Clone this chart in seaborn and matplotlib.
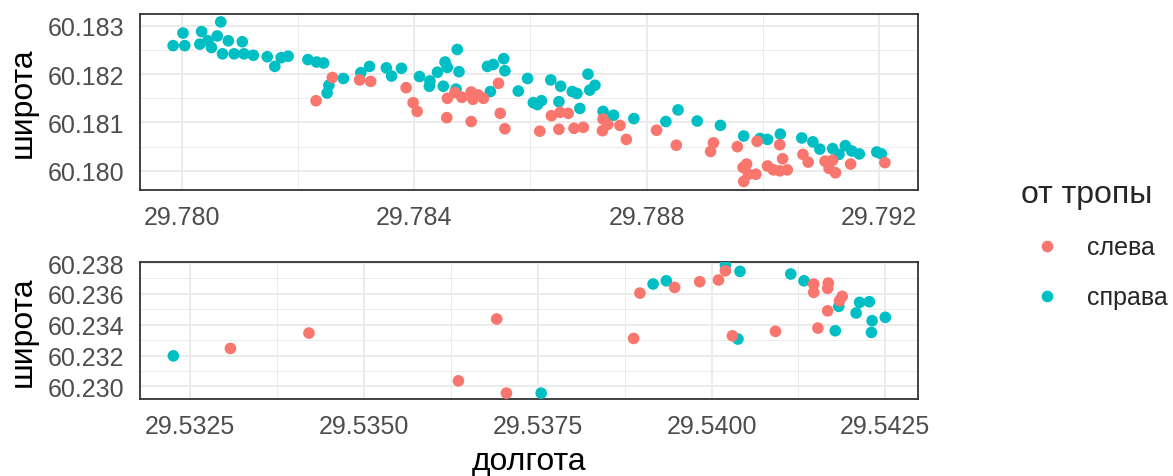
import numpy as np
import pandas as pd
import matplotlib
matplotlib.use("Agg")
import matplotlib.pyplot as plt
import seaborn as sns

# ---------------- data ----------------
side_levels = ["слева", "справа"]
palette = {"слева": "#F8766D", "справа": "#00BFC4"}
legend_title = "от тропы"
x_title = "долгота"
y_title = "широта"

# upper site, right of trail
top_right_lon = [
    29.77985, 29.78002, 29.78005, 29.78034, 29.78031, 29.78045, 29.78051, 29.78061, 29.78067, 29.78070,
    29.78080, 29.78090, 29.78104, 29.78107, 29.78123, 29.78147, 29.78160, 29.78171, 29.78183, 29.78217,
    29.78232, 29.78244, 29.78253, 29.78250, 29.78278, 29.78308, 29.78323, 29.78352, 29.78361, 29.78378,
    29.78409, 29.78427, 29.78426, 29.78440, 29.78453, 29.78457, 29.78450, 29.78474, 29.78477, 29.78472,
    29.78526, 29.78536, 29.78554, 29.78556, 29.78531, 29.78579, 29.78595, 29.78605, 29.78619, 29.78612,
    29.78635, 29.78652, 29.78649, 29.78672, 29.78680, 29.78699, 29.78711, 29.78702, 29.78685, 29.78725,
    29.78743, 29.78778, 29.78833, 29.78854, 29.78887, 29.78927, 29.78967, 29.78995, 29.79008, 29.79030,
    29.79067, 29.79086, 29.79098, 29.79120, 29.79131, 29.79142, 29.79153, 29.79166, 29.79196, 29.79204]
top_right_lat = [
    60.18259, 60.18285, 60.18259, 60.18288, 60.18262, 60.18269, 60.18255, 60.18279, 60.18308, 60.18242,
    60.18269, 60.18242, 60.18267, 60.18242, 60.18239, 60.18236, 60.18216, 60.18234, 60.18237, 60.18230,
    60.18225, 60.18223, 60.18177, 60.18161, 60.18191, 60.18203, 60.18216, 60.18213, 60.18196, 60.18212,
    60.18195, 60.18186, 60.18175, 60.18204, 60.18225, 60.18214, 60.18175, 60.18251, 60.18205, 60.18169,
    60.18216, 60.18220, 60.18232, 60.18207, 60.18164, 60.18165, 60.18191, 60.18141, 60.18145, 60.18137,
    60.18188, 60.18175, 60.18143, 60.18164, 60.18160, 60.18200, 60.18177, 60.18167, 60.18129, 60.18123,
    60.18115, 60.18108, 60.18102, 60.18126, 60.18103, 60.18094, 60.18072, 60.18067, 60.18065, 60.18076,
    60.18068, 60.18060, 60.18045, 60.18046, 60.18034, 60.18052, 60.18041, 60.18035, 60.18039, 60.18035]

# upper site, left of trail
top_left_lon = [
    29.78231, 29.78259, 29.78306, 29.78325, 29.78386, 29.78398, 29.78405, 29.78457, 29.78456, 29.78470,
    29.78482, 29.78498, 29.78501, 29.78510, 29.78519, 29.78498, 29.78545, 29.78548, 29.78556, 29.78616,
    29.78636, 29.78651, 29.78665, 29.78649, 29.78675, 29.78691, 29.78725, 29.78733, 29.78724, 29.78754,
    29.78765, 29.78817, 29.78851, 29.78915, 29.78910, 29.78956, 29.78972, 29.78966, 29.78975, 29.78967,
    29.78988, 29.78990, 29.79008, 29.79018, 29.79029, 29.79029, 29.79034, 29.79042, 29.79069, 29.79078,
    29.79107, 29.79120, 29.79114, 29.79125, 29.79151, 29.79210]
top_left_lat = [
    60.18145, 60.18193, 60.18188, 60.18185, 60.18172, 60.18141, 60.18123, 60.18150, 60.18110, 60.18162,
    60.18152, 60.18163, 60.18148, 60.18157, 60.18150, 60.18102, 60.18181, 60.18119, 60.18087, 60.18082,
    60.18114, 60.18121, 60.18119, 60.18086, 60.18088, 60.18090, 60.18107, 60.18096, 60.18083, 60.18094,
    60.18065, 60.18084, 60.18053, 60.18058, 60.18040, 60.18050, 60.18014, 60.18007, 60.17993, 60.17978,
    60.17993, 60.18061, 60.18010, 60.18002, 60.18054, 60.18000, 60.18025, 60.18002, 60.18034, 60.18018,
    60.18020, 60.18022, 60.18005, 60.17996, 60.18014, 60.18017]

# lower site, right of trail
bot_right_lon = [
    29.53226, 29.53755, 29.53916, 29.53935, 29.54020, 29.54041, 29.54038, 29.54114, 29.54133, 29.54183,
    29.54213, 29.54227, 29.54208, 29.54231, 29.54250, 29.54230, 29.54178]
bot_right_lat = [
    60.23198, 60.22956, 60.23664, 60.23685, 60.23787, 60.23746, 60.23307, 60.23729, 60.23685, 60.23519,
    60.23545, 60.23549, 60.23476, 60.23426, 60.23448, 60.23350, 60.23361]

# lower site, left of trail
bot_left_lon = [
    29.53308, 29.53421, 29.53636, 29.53691, 29.53705, 29.53888, 29.53897, 29.53947, 29.53983, 29.54010,
    29.54020, 29.54030, 29.54092, 29.54147, 29.54147, 29.54168, 29.54167, 29.54188, 29.54184, 29.54167,
    29.54153]
bot_left_lat = [
    60.23246, 60.23346, 60.23036, 60.23437, 60.22956, 60.23311, 60.23605, 60.23642, 60.23679, 60.23690,
    60.23750, 60.23328, 60.23357, 60.23664, 60.23610, 60.23670, 60.23636, 60.23584, 60.23555, 60.23490,
    60.23378]

top_xticks = [29.780, 29.784, 29.788, 29.792]
top_xticklabels = ["29.780", "29.784", "29.788", "29.792"]
top_xminor = [29.782, 29.786, 29.790]
top_yticks = [60.180, 60.181, 60.182, 60.183]
top_yticklabels = ["60.180", "60.181", "60.182", "60.183"]
top_yminor = [60.1805, 60.1815, 60.1825]
top_xlim = (29.77928, 29.79267)
top_ylim = (60.17961, 60.18325)

bot_xticks = [29.5325, 29.5350, 29.5375, 29.5400, 29.5425]
bot_xticklabels = ["29.5325", "29.5350", "29.5375", "29.5400", "29.5425"]
bot_xminor = [29.53375, 29.53625, 29.53875, 29.54125]
bot_yticks = [60.230, 60.232, 60.234, 60.236, 60.238]
bot_yticklabels = ["60.230", "60.232", "60.234", "60.236", "60.238"]
bot_yminor = [60.231, 60.233, 60.235, 60.237]
bot_xlim = (29.53178, 29.54297)
bot_ylim = (60.22918, 60.23805)


def make_df(r_lon, r_lat, l_lon, l_lat):
    right = pd.DataFrame({"lon": r_lon, "lat": r_lat, "side": "справа"})
    left = pd.DataFrame({"lon": l_lon, "lat": l_lat, "side": "слева"})
    return pd.concat([right, left], ignore_index=True)


df_top = make_df(top_right_lon, top_right_lat, top_left_lon, top_left_lat)
df_bot = make_df(bot_right_lon, bot_right_lat, bot_left_lon, bot_left_lat)

# ---------------- style ----------------
sns.set_theme(style="white")
plt.rcParams["font.family"] = ["Liberation Sans", "DejaVu Sans"]

W, H = 1173, 477
fig = plt.figure(figsize=(W / 100, H / 100), dpi=100)

def rect(l, t, r, b):
    return [l / W, 1 - b / H, (r - l) / W, (b - t) / H]

ax_top = fig.add_axes(rect(140, 14.7, 918, 190.7))
ax_bot = fig.add_axes(rect(140, 263.3, 918, 400))

border_col = "#333333"
grid_col = "#EBEBEB"
tick_col = "#4D4D4D"

panels = [
    (ax_top, df_top, top_xticks, top_xticklabels, top_xminor, top_yticks, top_yticklabels, top_yminor, top_xlim, top_ylim, True),
    (ax_bot, df_bot, bot_xticks, bot_xticklabels, bot_xminor, bot_yticks, bot_yticklabels, bot_yminor, bot_xlim, bot_ylim, False),
]

handles, labels = None, None
for ax, df, xt, xtl, xmn, yt, ytl, ymn, xl, yl, want_leg in panels:
    sns.scatterplot(data=df, x="lon", y="lat", hue="side", hue_order=side_levels,
                    palette=palette, s=70, linewidth=0, alpha=1, ax=ax,
                    legend=want_leg, zorder=3)
    if want_leg:
        handles, labels = ax.get_legend_handles_labels()
        ax.get_legend().remove()
    ax.set_xticks(xt)
    ax.set_xticklabels(xtl)
    ax.set_yticks(yt)
    ax.set_yticklabels(ytl)
    ax.set_xticks(xmn, minor=True)
    ax.set_yticks(ymn, minor=True)
    ax.set_xlim(*xl)
    ax.set_ylim(*yl)
    ax.grid(True, which="major", color=grid_col, linewidth=1.4, zorder=0)
    ax.grid(True, which="minor", color=grid_col, linewidth=0.7, zorder=0)
    ax.set_axisbelow(True)
    ax.tick_params(axis="both", which="major", length=4.8, width=1.2, color=border_col,
                   labelsize=18, labelcolor=tick_col)
    ax.tick_params(axis="x", which="major", pad=6)
    ax.tick_params(axis="y", which="major", pad=6.5)
    ax.tick_params(axis="both", which="minor", length=0)
    for sp in ax.spines.values():
        sp.set_visible(True)
        sp.set_color(border_col)
        sp.set_linewidth(1.3)
    ax.set_facecolor("white")
    ax.set_ylabel(y_title, fontsize=23, color="black")
    ax.yaxis.set_label_coords(-0.132, 0.5)
    ax.set_xlabel("")

ax_bot.set_xlabel(x_title, fontsize=23, color="black", labelpad=6)

leg = fig.legend(handles, labels, title=legend_title, loc="upper left",
                 bbox_to_anchor=(1021 / W, 1 - 180 / H), frameon=False,
                 fontsize=18, title_fontsize=23, alignment="left",
                 handlelength=2.1, handletextpad=0.55, labelspacing=1.05,
                 borderpad=0, borderaxespad=0, markerscale=1.0)

fig.savefig("out.png", dpi=100, facecolor="white")
